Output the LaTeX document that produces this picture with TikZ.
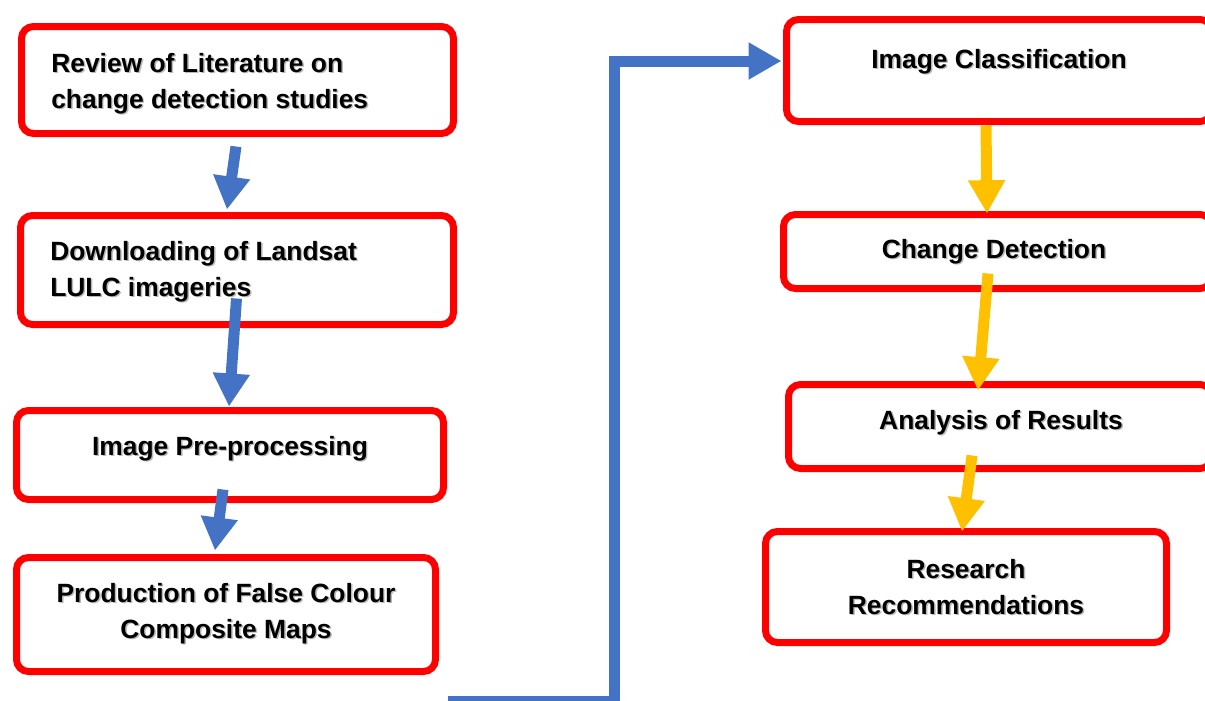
\documentclass[tikz,border=0pt]{standalone}
\usepackage{fontspec}
\setmainfont{Liberation Sans}
\usetikzlibrary{arrows.meta,calc}
\definecolor{boxred}{HTML}{FF0000}
\definecolor{arrblue}{HTML}{4472C4}
\definecolor{arryellow}{HTML}{FFC000}
\newcommand\lstrut{\rule[-8.1pt]{0pt}{27pt}}
\newcommand\sh[1]{\leavevmode\lstrut\rlap{\raisebox{-1.1pt}{\hspace{1.1pt}\textcolor{black!28}{#1}}}#1}
\tikzset{
  frame/.style={draw=boxred, line width=5.25pt, rounded corners=9pt, fill=white, inner sep=0pt},
  txt/.style={inner sep=0pt, font=\fontsize{19.8}{27}\selectfont\bfseries},
  barrow/.style={draw=arrblue, line width=8.25pt, line join=miter,
    -{Triangle[length=24.75pt, width=26.25pt]}},
  yarrow/.style={draw=arryellow, line width=8.25pt,
    -{Triangle[length=25pt, width=26.25pt]}}
}
\begin{document}
\begin{tikzpicture}[x=0.75pt, y=-0.75pt]
\useasboundingbox (0,0) rectangle (1205,700);
\clip (0,0) rectangle (1205,700);
% frames
\node[frame, minimum width=324pt, minimum height=80.25pt] (b1) at (237.5,80) {};
\node[frame, minimum width=324.75pt, minimum height=81.75pt] (b2) at (237,270) {};
\node[frame, minimum width=320.25pt, minimum height=66.75pt] (b3) at (230,455) {};
\node[frame, minimum width=314.25pt, minimum height=85.5pt] (b4) at (226,614.5) {};
\node[frame, minimum width=319.125pt, minimum height=76.5pt] (b5) at (999.25,70.5) {};
\node[frame, minimum width=321.375pt, minimum height=55.5pt] (b6) at (997.75,251.5) {};
\node[frame, minimum width=317.625pt, minimum height=63pt] (b7) at (1000.25,426.5) {};
\node[frame, minimum width=300.75pt, minimum height=83.25pt] (b8) at (966,587) {};
% texts
\node[txt, anchor=west, align=left] (t1) at (51,82.8) {\sh{Review of Literature on}\\\sh{change detection studies}};
\node[txt, anchor=west, align=left] (t2) at (50,270.8) {\sh{Downloading of Landsat}\\\sh{LULC imageries}};
\node[txt, align=center] (t3) at (230,447.8) {\sh{Image Pre-processing}};
\node[txt, align=center] (t4) at (226,612.8) {\sh{Production of False Colour}\\\sh{Composite Maps}};
\node[txt, align=center] (t5) at (999,60.8) {\sh{Image Classification}};
\node[txt, align=center] (t6) at (994,250.8) {\sh{Change Detection}};
\node[txt, align=center] (t7) at (1001,421.8) {\sh{Analysis of Results}};
\node[txt, align=center] (t8) at (966,588.8) {\sh{Research}\\\sh{Recommendations}};
% blue arrows
\draw[barrow] ($(b1.south)+(-1.5,9.5)$) -- ($(b2.north)+(-10,-2.5)$);
\draw[barrow] ($(b2.south)+(-0.5,-29.5)$) -- ($(b3.north)+(-1,-0.5)$);
\draw[barrow] ($(b3.south)+(-7,-13.5)$) -- ($(b4.north)+(-11,-3.5)$);
\coordinate (es) at ($(b4.south east)+(8.5,26)$);
\coordinate (et) at ($(b5.west)+(-1.5,-9.5)$);
\coordinate (ec) at (614.5,61);
\draw[barrow] (es) -| (ec) -- (et);
% yellow arrows
\draw[yarrow] ($(b5.south)+(-13.25,0.5)$) -- ($(b6.north)+(-10.75,2.5)$);
\draw[yarrow] ($(b6.south)+(-9.75,-18.5)$) -- ($(b7.north)+(-22.25,9.5)$);
\draw[yarrow] ($(b7.south)+(-28.25,-16.5)$) -- ($(b8.north)+(-4,3.5)$);
\end{tikzpicture}
\end{document}
